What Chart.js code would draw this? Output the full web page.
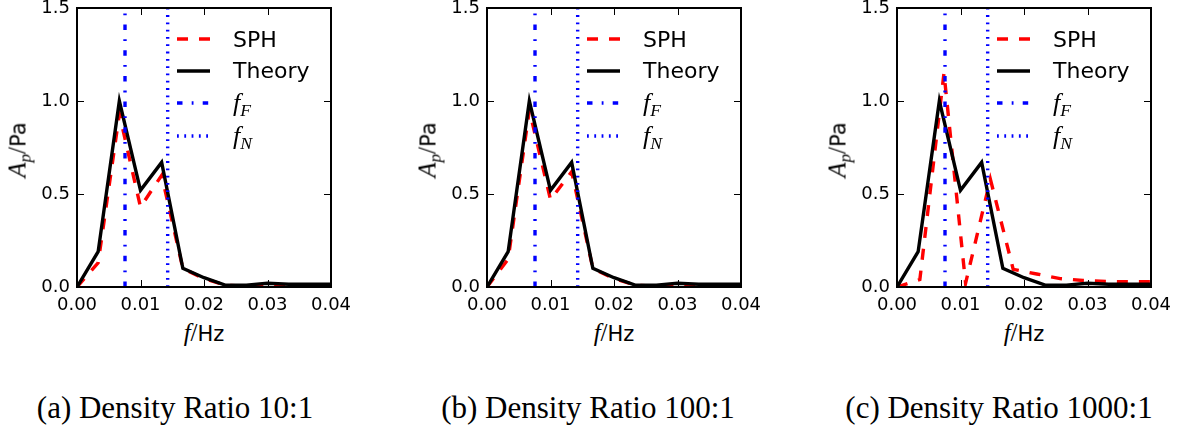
<!DOCTYPE html>
<html><head><meta charset="utf-8">
<script src="https://cdn.jsdelivr.net/npm/chart.js@4.4.1/dist/chart.umd.min.js"></script>
<style>
html,body{margin:0;padding:0;background:#fff;}
#wrap{position:relative;width:1182px;height:431px;overflow:hidden;background:#fff;font-family:'DejaVu Sans',sans-serif;color:#000;}
canvas{position:absolute;top:0;}
.lbl{position:absolute;white-space:nowrap;line-height:1;transform:translate(0,-50%);}
.ctr{position:absolute;white-space:nowrap;line-height:1;transform:translate(-50%,-50%);}
.rot{position:absolute;white-space:nowrap;line-height:1;transform:translate(-50%,-50%) rotate(-90deg);}
.math{font-family:'Liberation Serif',serif;font-style:italic;}
.rm{font-family:'Liberation Serif',serif;}
.sub{font-size:0.68em;position:relative;top:0.28em;}
.cap{position:absolute;font-family:'Liberation Serif',serif;font-size:31px;line-height:1;transform:translate(-50%,-50%);white-space:nowrap;}
</style></head><body><div id="wrap"></div>
<script>
// ---- data ----
const freqTheory = [0, 0.00333, 0.00667, 0.01, 0.01333, 0.01667, 0.02, 0.02333, 0.02667, 0.03, 0.03333, 0.03667, 0.04];
const ampTheory  = [0, 0.19, 1.00, 0.52, 0.67, 0.10, 0.05, 0.01, 0.01, 0.02, 0.015, 0.015, 0.015];

const freqSph10  = [0, 0.00333, 0.00667, 0.01, 0.01333, 0.01667, 0.02, 0.02333, 0.02667, 0.03, 0.03333, 0.03667, 0.04];
const ampSph10   = [0, 0.13, 0.93, 0.43, 0.60, 0.10, 0.045, 0.01, 0.005, 0.015, 0.01, 0.01, 0.01];

const freqSph100 = [0, 0.00333, 0.00667, 0.01, 0.01333, 0.01667, 0.02, 0.02333, 0.02667, 0.03, 0.03333, 0.03667, 0.04];
const ampSph100  = [0, 0.15, 0.95, 0.47, 0.62, 0.10, 0.045, 0.01, 0.005, 0.015, 0.01, 0.01, 0.01];

const freqSph1000 = [0, 0.0036, 0.0074, 0.0108, 0.0147, 0.0183, 0.022, 0.0257, 0.0293, 0.033, 0.0367, 0.04];
const ampSph1000  = [0, 0.04, 1.15, 0.02, 0.58, 0.095, 0.07, 0.045, 0.035, 0.03, 0.028, 0.028];

const fF = 0.00756;
const fN = 0.01428;

const xTickValues = [0, 0.01, 0.02, 0.03, 0.04];
const xTickLabels = ['0.00', '0.01', '0.02', '0.03', '0.04'];
const yTickValues = [0, 0.5, 1.0, 1.5];
const yTickLabels = ['0.0', '0.5', '1.0', '1.5'];

const captions = ['(a) Density Ratio 10:1', '(b) Density Ratio 100:1', '(c) Density Ratio 1000:1'];

// ---- layout ----
const panels = [
  {left: 77,  sphX: freqSph10,   sphY: ampSph10,   capX: 175},
  {left: 487, sphX: freqSph100,  sphY: ampSph100,  capX: 588},
  {left: 897, sphX: freqSph1000, sphY: ampSph1000, capX: 999}
];
panels.forEach((p, i) => p.caption = captions[i]);

const AXL = 77, AXT = 8, AXW = 254, AXH = 279, PADR = 30, XH = 25;
const CW = AXL + AXW + PADR, CH = AXT + AXH + XH;

const DASH = [11, 11];
const DASHDOT = [5.5, 9.2, 1.8, 9.2];
const DOT = [1.8, 5.5];
const LW = 3.4;

const wrap = document.getElementById('wrap');

function pts(xs, ys) { return xs.map((x, i) => ({x: x, y: ys[i]})); }
function lookup(vals, labels) {
  return v => { const i = vals.findIndex(t => Math.abs(t - v) < 1e-9); return i >= 0 ? labels[i] : ''; };
}

const framePlugin = {
  id: 'frame',
  afterDatasetsDraw(chart) {
    const {ctx, chartArea: a, scales: {x, y}} = chart;
    ctx.save();
    ctx.setLineDash([]);
    ctx.strokeStyle = '#000';
    ctx.lineWidth = 1;
    const TL = 7;
    xTickValues.forEach(v => {
      const px = Math.round(x.getPixelForValue(v)) + 0.5;
      ctx.beginPath();
      ctx.moveTo(px, a.bottom); ctx.lineTo(px, a.bottom - TL);
      ctx.moveTo(px, a.top); ctx.lineTo(px, a.top + TL);
      ctx.stroke();
    });
    yTickValues.forEach(v => {
      const py = Math.round(y.getPixelForValue(v)) + 0.5;
      ctx.beginPath();
      ctx.moveTo(a.left, py); ctx.lineTo(a.left + TL, py);
      ctx.moveTo(a.right, py); ctx.lineTo(a.right - TL, py);
      ctx.stroke();
    });
    ctx.lineWidth = 2;
    ctx.strokeRect(a.left, a.top, a.right - a.left, a.bottom - a.top);

    // legend samples
    const sx0 = a.left + 100, sx1 = a.left + 133;
    const rows = [
      {y: a.top + 31, color: '#ff0000', dash: DASH},
      {y: a.top + 63, color: '#000000', dash: []},
      {y: a.top + 95, color: '#0000ff', dash: DASHDOT},
      {y: a.top + 128, color: '#0000ff', dash: DOT}
    ];
    rows.forEach(r => {
      ctx.beginPath();
      ctx.strokeStyle = r.color;
      ctx.lineWidth = LW;
      ctx.lineCap = 'butt';
      ctx.setLineDash(r.dash);
      ctx.moveTo(sx0, r.y); ctx.lineTo(sx1, r.y);
      ctx.stroke();
    });
    ctx.restore();
  }
};

panels.forEach((p, i) => {
  const cv = document.createElement('canvas');
  cv.width = CW; cv.height = CH;
  cv.style.width = CW + 'px'; cv.style.height = CH + 'px';
  cv.style.left = (p.left - AXL) + 'px';
  wrap.appendChild(cv);

  new Chart(cv.getContext('2d'), {
    type: 'scatter',
    data: {
      datasets: [
        {label: 'SPH', data: pts(p.sphX, p.sphY), showLine: true, borderColor: '#ff0000', borderWidth: LW,
         borderDash: DASH, pointRadius: 0, order: 3, tension: 0},
        {label: 'Theory', data: pts(freqTheory, ampTheory), showLine: true, borderColor: '#000000', borderWidth: LW,
         pointRadius: 0, order: 2, tension: 0},
        {label: 'fF', data: [{x: fF, y: 0}, {x: fF, y: 1.5}], showLine: true, borderColor: '#0000ff', borderWidth: LW,
         borderDash: DASHDOT, pointRadius: 0, order: 1},
        {label: 'fN', data: [{x: fN, y: 0}, {x: fN, y: 1.5}], showLine: true, borderColor: '#0000ff', borderWidth: LW,
         borderDash: DOT, pointRadius: 0, order: 0}
      ]
    },
    options: {
      responsive: false, animation: false, devicePixelRatio: 1,
      layout: {padding: {top: AXT, right: PADR, bottom: 0, left: 0}},
      plugins: {legend: {display: false}, tooltip: {enabled: false}},
      scales: {
        x: {
          type: 'linear', min: 0, max: 0.04,
          grid: {display: false, drawTicks: false}, border: {display: false},
          ticks: {padding: 8, color: '#000', font: {family: 'DejaVu Sans', size: 18}, maxRotation: 0, autoSkip: false,
                  callback: lookup(xTickValues, xTickLabels)},
          afterBuildTicks(s) { s.ticks = xTickValues.map(v => ({value: v})); },
          afterFit(s) { s.height = XH; s.paddingLeft = 0; s.paddingRight = 0; }
        },
        y: {
          type: 'linear', min: 0, max: 1.5,
          grid: {display: false, drawTicks: false}, border: {display: false},
          ticks: {padding: 7, color: '#000', font: {family: 'DejaVu Sans', size: 18},
                  callback: lookup(yTickValues, yTickLabels)},
          afterBuildTicks(s) { s.ticks = yTickValues.map(v => ({value: v})); },
          afterFit(s) { s.width = AXL; s.paddingTop = 0; s.paddingBottom = 0; }
        }
      }
    },
    plugins: [framePlugin]
  });

  const L = p.left;
  const add = (cls, html, x, y, style) => {
    const d = document.createElement('div');
    d.className = cls; d.innerHTML = html;
    d.style.left = x + 'px'; d.style.top = y + 'px';
    if (style) d.style.cssText += style;
    wrap.appendChild(d);
  };
  // legend labels
  add('lbl', 'SPH', L + 156, 40, 'font-size:22px;');
  add('lbl', 'Theory', L + 156, 71, 'font-size:22px;');
  add('lbl', '<span class="math">f<span class="sub">F</span></span>', L + 156, 102, 'font-size:26px;');
  add('lbl', '<span class="math">f<span class="sub">N</span></span>', L + 156, 135, 'font-size:26px;');
  // axis titles
  add('ctr', '<span class="math" style="font-size:25px">f</span><span class="rm" style="font-size:25px">/</span>Hz', L + 127, 332, 'font-size:21px;');
  add('rot', '<span class="math" style="font-size:25px">A<span class="sub">p</span></span><span class="rm" style="font-size:25px">/</span>Pa', L - 60, 150, 'font-size:21px;');
  // caption
  add('cap', p.caption, p.capX, 407);
});
</script>
</body></html>
